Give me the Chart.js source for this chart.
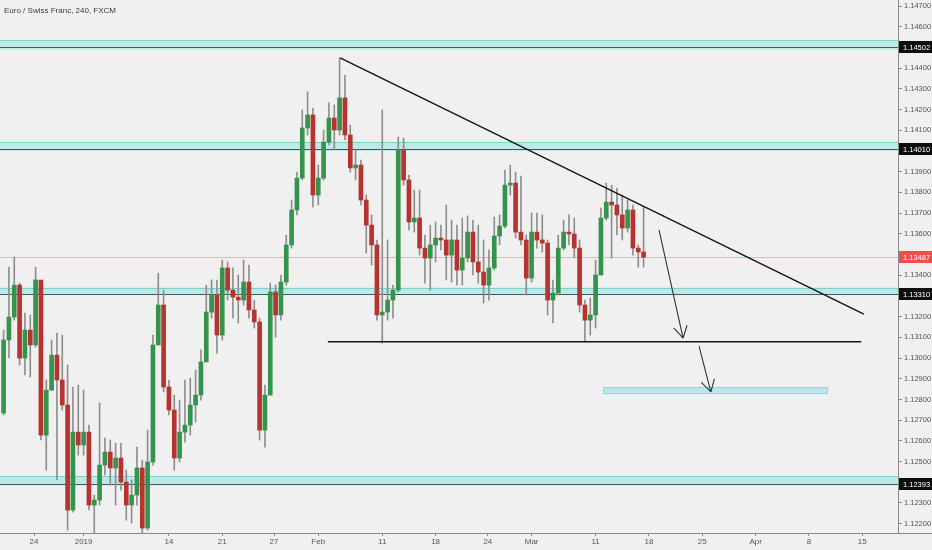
<!DOCTYPE html>
<html><head><meta charset="utf-8">
<script src="https://cdn.jsdelivr.net/npm/chart.js@4.4.1/dist/chart.umd.min.js"></script>
<style>
html,body{margin:0;padding:0;background:#f0f0f0;}
#wrap{position:relative;width:932px;height:550px;overflow:hidden;}
#title{position:absolute;left:4px;top:6px;font:8px "Liberation Sans",Arial,sans-serif;color:#3a3a3a;}
</style>
</head><body>
<div id="wrap"><canvas id="c" width="932" height="550"></canvas><div id="title">Euro / Swiss Franc, 240, FXCM</div></div>
<script>
// ---- data (12h aggregation of the 4h series) ----
const firstOpen = 1.12734;
const closes = [1.13087,1.13198,1.13352,1.13000,1.13135,1.13063,1.13377,1.12628,1.12845,1.13014,
1.12894,1.12773,1.12266,1.12642,1.12580,1.12642,1.12290,1.12314,1.12483,1.12546,
1.12469,1.12517,1.12401,1.12290,1.12338,1.12469,1.12179,1.12498,1.13063,1.13256,
1.12860,1.12749,1.12517,1.12642,1.12676,1.12773,1.12821,1.12981,1.13222,1.13304,
1.13111,1.13435,1.13328,1.13294,1.13280,1.13367,1.13232,1.13174,1.12652,1.12821,
1.13319,1.13208,1.13367,1.13546,1.13715,1.13869,1.14111,1.14174,1.13787,1.13869,
1.14043,1.14159,1.14101,1.14256,1.14077,1.13918,1.13932,1.13763,1.13642,1.13546,
1.13208,1.13222,1.13280,1.13328,1.14005,1.13860,1.13657,1.13676,1.13531,1.13483,
1.13546,1.13579,1.13570,1.13497,1.13570,1.13425,1.13483,1.13608,1.13464,1.13415,
1.13352,1.13435,1.13589,1.13637,1.13835,1.13845,1.13608,1.13570,1.13386,1.13608,
1.13570,1.13555,1.13280,1.13314,1.13531,1.13608,1.13599,1.13531,1.13256,1.13183,
1.13208,1.13401,1.13676,1.13753,1.13739,1.13691,1.13628,1.13715,1.13531,1.13512,
1.13487];
const highs = [1.13135,1.13439,1.13488,1.13362,1.13217,1.13208,1.13439,1.13367,1.12894,1.13087,
1.13121,1.13111,1.12966,1.12860,1.12869,1.12845,1.12676,1.12338,1.12783,1.12613,
1.12604,1.12589,1.12589,1.12459,1.12411,1.12570,1.12507,1.12652,1.13111,1.13410,
1.13328,1.12894,1.12821,1.12797,1.12894,1.12903,1.12942,1.13039,1.13352,1.13377,
1.13377,1.13473,1.13464,1.13435,1.13401,1.13473,1.13449,1.13280,1.13193,1.12869,
1.13362,1.13352,1.13401,1.13594,1.13763,1.13898,1.14198,1.14285,1.14207,1.13932,
1.14101,1.14232,1.14222,1.14449,1.14367,1.14125,1.14005,1.13956,1.13787,1.13691,
1.13570,1.14198,1.13570,1.13352,1.14067,1.14062,1.13884,1.13811,1.13811,1.13594,
1.13642,1.13657,1.13642,1.13739,1.13666,1.13642,1.13676,1.13686,1.13666,1.13642,
1.13570,1.13522,1.13681,1.13691,1.13908,1.13932,1.13898,1.13879,1.13594,1.13700,
1.13700,1.13691,1.13570,1.13377,1.13594,1.13666,1.13691,1.13676,1.13570,1.13280,
1.13290,1.13473,1.13724,1.13845,1.13835,1.13821,1.13787,1.13763,1.13739,1.13546,
1.13729];
const lows = [1.12725,1.13000,1.13183,1.12966,1.12918,1.12908,1.13053,1.12604,1.12459,1.12845,
1.12411,1.12749,1.12169,1.12256,1.12531,1.12531,1.12266,1.12155,1.12290,1.12435,
1.12386,1.12290,1.12362,1.12217,1.12203,1.12290,1.12140,1.12169,1.12483,1.13063,
1.12836,1.12725,1.12459,1.12498,1.12594,1.12628,1.12691,1.12797,1.12981,1.13193,
1.13024,1.13087,1.13280,1.13193,1.13169,1.13256,1.13193,1.13145,1.12604,1.12570,
1.12821,1.13101,1.13183,1.13352,1.13531,1.13691,1.13860,1.14077,1.13729,1.13739,
1.13860,1.14029,1.14005,1.14077,1.14053,1.13898,1.13860,1.13739,1.13507,1.13449,
1.13183,1.13072,1.13183,1.13193,1.13319,1.13835,1.13618,1.13608,1.13497,1.13362,
1.13328,1.13464,1.13522,1.13377,1.13367,1.13352,1.13352,1.13464,1.13401,1.13362,
1.13266,1.13280,1.13425,1.13546,1.13628,1.13787,1.13579,1.13546,1.13304,1.13367,
1.13531,1.13512,1.13208,1.13169,1.13304,1.13522,1.13546,1.13483,1.13222,1.13077,
1.13111,1.13145,1.13401,1.13666,1.13483,1.13594,1.13570,1.13608,1.13497,1.13439,
1.13439];

// time axis (bar index, one bar = 12h) and its labels
const tickBars   = [5.7, 15, 31, 41, 50.7, 59, 71, 81, 90.8, 99, 111, 121, 131, 141, 151, 161];
const tickLabels = ['24','2019','14','21','27','Feb','11','18','24','Mar','11','18','25','Apr','8','15'];
const xRange = [-0.675, 167.7];
const yRange = [1.12155, 1.14729];

// drawn levels and annotations
const zoneLevels = [1.14502, 1.14010, 1.13310, 1.12393];
const zoneTops   = [1.14535, 1.14042, 1.13340, 1.12428];
const zoneBottoms= [1.14490, 1.14000, 1.13305, 1.12385];
const lastPrice = 1.13487;
const trendLine   = [{x:63.1, y:1.14449}, {x:161.3, y:1.13212}];
const supportLine = [{x:60.8, y:1.13079}, {x:160.8, y:1.13079}];
const arrow1 = [{x:122.9, y:1.13618}, {x:127.4, y:1.13096}];
const arrow2 = [{x:130.4, y:1.13058}, {x:132.6, y:1.12836}];
const targetBox = {x0:112.4, x1:154.6, y0:1.12826, y1:1.12860};

// ---- build datasets ----
const opens = closes.map((c, i) => i === 0 ? firstOpen : closes[i - 1]);
const up = closes.map((c, i) => c >= opens[i]);
const GREEN = '#35944b', RED = '#b8322f', WICK = '#8e8e8e';
const wickData = closes.map((c, i) => ({x: i, y: [lows[i], highs[i]]}));
const bodyData = closes.map((c, i) => ({x: i, y: [opens[i], c]}));
const FONT = '"Liberation Sans", Arial, sans-serif';

const bandPlugin = {
  id: 'bands',
  beforeDatasetsDraw(chart) {
    const {ctx, chartArea: a, scales: {x, y}} = chart;
    ctx.save();
    ctx.beginPath(); ctx.rect(a.left, a.top, a.right - a.left, a.bottom - a.top); ctx.clip();
    zoneLevels.forEach((lv, k) => {
      const yt = y.getPixelForValue(zoneTops[k]), yb = y.getPixelForValue(zoneBottoms[k]);
      ctx.fillStyle = 'rgba(170,232,228,0.75)';
      ctx.fillRect(a.left, yt, a.right - a.left, yb - yt);
      ctx.strokeStyle = 'rgba(120,205,205,0.9)'; ctx.lineWidth = 1;
      ctx.beginPath(); ctx.moveTo(a.left, Math.round(yt) + 0.5); ctx.lineTo(a.right, Math.round(yt) + 0.5); ctx.stroke();
      const yl = Math.round(y.getPixelForValue(lv)) + 0.5;
      ctx.strokeStyle = '#3f5a60'; ctx.lineWidth = 1;
      ctx.beginPath(); ctx.moveTo(a.left, yl); ctx.lineTo(a.right, yl); ctx.stroke();
    });
    // target box
    const bx0 = x.getPixelForValue(targetBox.x0), bx1 = x.getPixelForValue(targetBox.x1);
    const by0 = y.getPixelForValue(targetBox.y1), by1 = y.getPixelForValue(targetBox.y0);
    ctx.fillStyle = 'rgba(170,232,236,0.85)';
    ctx.fillRect(bx0, by0, bx1 - bx0, by1 - by0);
    ctx.strokeStyle = 'rgba(140,215,222,0.9)';
    ctx.strokeRect(bx0 + 0.5, by0 + 0.5, bx1 - bx0 - 1, by1 - by0 - 1);
    // last price line
    const yp = Math.round(y.getPixelForValue(lastPrice)) + 0.5;
    ctx.strokeStyle = 'rgba(236,130,130,0.55)';
    ctx.beginPath(); ctx.moveTo(a.left, yp); ctx.lineTo(a.right, yp); ctx.stroke();
    ctx.restore();
  }
};

const arrowPlugin = {
  id: 'arrowheads',
  afterDatasetsDraw(chart) {
    const {ctx, scales: {x, y}} = chart;
    [arrow1, arrow2].forEach(ar => {
      const x0 = x.getPixelForValue(ar[0].x), y0 = y.getPixelForValue(ar[0].y);
      const x1 = x.getPixelForValue(ar[1].x), y1 = y.getPixelForValue(ar[1].y);
      const ang = Math.atan2(y0 - y1, x0 - x1);
      ctx.save(); ctx.strokeStyle = '#333'; ctx.lineWidth = 1.1;
      [-0.52, 0.52].forEach(d => {
        ctx.beginPath(); ctx.moveTo(x1, y1);
        ctx.lineTo(x1 + 13.5 * Math.cos(ang + d), y1 + 13.5 * Math.sin(ang + d)); ctx.stroke();
      });
      ctx.restore();
    });
  }
};

const labelPlugin = {
  id: 'priceLabels',
  afterDraw(chart) {
    const {ctx, chartArea: a, scales: {y}} = chart;
    ctx.save();
    ctx.font = '7.5px ' + FONT;
    ctx.textBaseline = 'middle'; ctx.textAlign = 'left';
    const draw = (v, bg) => {
      const yp = Math.round(y.getPixelForValue(v));
      ctx.fillStyle = bg; ctx.fillRect(a.right + 1, yp - 6, 932 - a.right - 1, 12);
      ctx.fillStyle = '#ffffff'; ctx.fillText(v.toFixed(5), a.right + 5, yp + 0.5);
    };
    zoneLevels.forEach(v => draw(v, '#0d0d0d'));
    draw(lastPrice, '#f0504d');
    ctx.strokeStyle = '#8a8a8a'; ctx.lineWidth = 1;
    ctx.beginPath(); ctx.moveTo(a.right, a.bottom + 0.5); ctx.lineTo(932, a.bottom + 0.5); ctx.stroke();
    ctx.restore();
  }
};

const lineDs = (data, color, w) => ({type: 'line', data, borderColor: color, borderWidth: w,
  pointRadius: 0, fill: false, tension: 0, order: 1});

new Chart(document.getElementById('c'), {
  type: 'bar',
  data: {
    datasets: [
      {data: wickData, backgroundColor: WICK, barThickness: 1, grouped: false, order: 6},
      {data: bodyData, backgroundColor: up.map(u => u ? GREEN : RED), barThickness: 4,
       grouped: false, minBarLength: 1, order: 5},
      lineDs(trendLine, '#141414', 1.4),
      lineDs(supportLine, '#141414', 1.5),
      lineDs(arrow1, '#333333', 1.1),
      lineDs(arrow2, '#333333', 1.1)
    ]
  },
  options: {
    responsive: false, animation: false, devicePixelRatio: 1,
    layout: {padding: 0},
    plugins: {legend: {display: false}, tooltip: {enabled: false}, title: {display: false}},
    scales: {
      x: {
        type: 'linear', min: xRange[0], max: xRange[1], offset: false,
        afterFit: s => { s.height = 17; s.paddingLeft = 0; s.paddingRight = 0; },
        afterBuildTicks: s => { s.ticks = tickBars.map(v => ({value: v})); },
        grid: {offset: false, drawOnChartArea: false, drawTicks: true, tickLength: 3, tickColor: '#8a8a8a'},
        border: {display: true, color: '#8a8a8a'},
        ticks: {autoSkip: false, maxRotation: 0, padding: 1, color: '#555',
          font: {size: 8, family: FONT},
          callback: (v, i) => tickLabels[i]}
      },
      y: {
        position: 'right', min: yRange[0], max: yRange[1],
        afterFit: s => { s.width = 34; s.paddingTop = 0; s.paddingBottom = 0; },
        grid: {drawOnChartArea: false, drawTicks: true, tickLength: 4, tickColor: '#8a8a8a'},
        border: {display: true, color: '#8a8a8a'},
        ticks: {stepSize: 0.001, includeBounds: false, padding: 2, color: '#555',
          font: {size: 7.5, family: FONT},
          callback: v => Number(v).toFixed(5)}
      }
    }
  },
  plugins: [bandPlugin, arrowPlugin, labelPlugin]
});
</script>
</body></html>
